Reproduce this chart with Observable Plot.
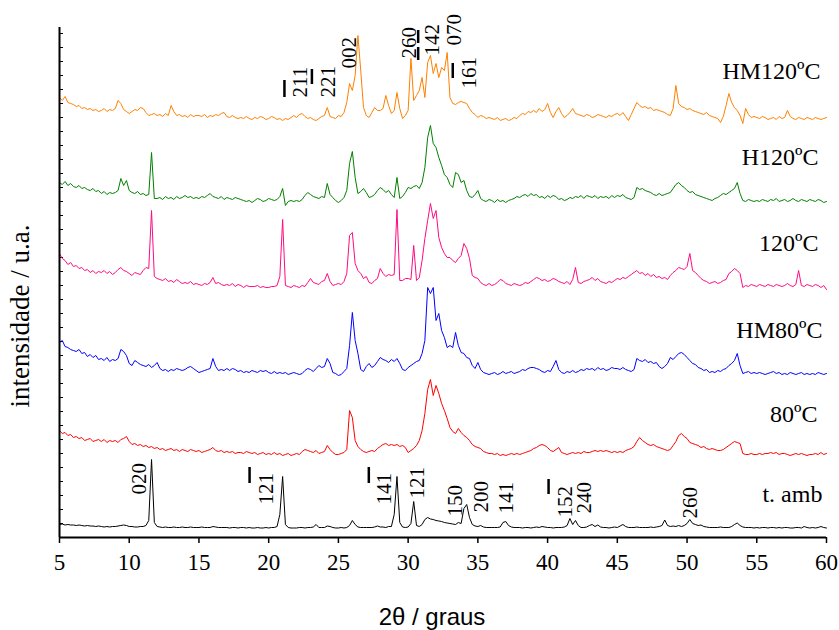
<!DOCTYPE html>
<html><head><meta charset="utf-8">
<script src="https://cdn.jsdelivr.net/npm/d3@7"></script>
<script src="https://cdn.jsdelivr.net/npm/@observablehq/plot@0.6"></script>
<style>body{margin:0;background:#fff}#chart{width:839px;height:630px}</style>
</head><body><div id="chart"></div><script>
// scan grid: 5.0 .. 60.0 degrees (2θ), step 0.2
const twoTheta = d3.range(0, 276).map(i => +(5 + 0.2 * i).toFixed(1));

const seriesNames = ["t. amb", "80ºC", "HM80ºC", "120ºC", "H120ºC", "HM120ºC"];
const seriesColors = ["#000000", "#ff0000", "#0000ff", "#ff0a80", "#008000", "#ff8000"];
const seriesOffsets = [9, 82, 162, 249, 335, 417];

const tAmb = [
/*5*/ 4,4.5,3.5,4,3.5, /*6*/ 3.5,3,3.5,3,2.5, /*7*/ 3,2.5,2.5,2,2.5, /*8*/ 2,1.5,2,1.5,2,
/*9*/ 2,2.5,3,3.5,3, /*10*/ 2,2,1.5,1.5,2, /*11*/ 2,3,8,69,6, /*12*/ 2,1.5,1,1.5,1,
/*13*/ 1,1.5,1,1,1.5, /*14*/ 1,1,1.5,1,1, /*15*/ 1,1.5,1,1,1, /*16*/ 2,1.5,1,1,1,
/*17*/ 1,0.5,1,1,0.5, /*18*/ 1,1,0.5,1,0.5, /*19*/ 0.5,1,0.5,0.5,1, /*20*/ 0.5,1,1,2,14,
/*21*/ 52,4,1,0.5,0.5, /*22*/ 0.5,1,1,0.5,1, /*23*/ 1,1.5,4,1,1, /*24*/ 1,2.5,2,1,0.5,
/*25*/ 0.5,1,0.5,1,3, /*26*/ 8,4,1.5,1,1, /*27*/ 1,1,1,1.5,2.5, /*28*/ 1.5,1.5,1,2,2,
/*29*/ 14,52,6,1.5,1, /*30*/ 1.5,5,27,3,2, /*31*/ 4,9,11,9.5,9, /*32*/ 8,7.5,7,6,5.5,
/*33*/ 5,4.5,4,6,5, /*34*/ 20,24,11,4,2.5, /*35*/ 2,3,1.5,1,1, /*36*/ 1,1,1,1.5,6,
/*37*/ 7,3,1.5,1,1, /*38*/ 1,0.5,1,1,0.5, /*39*/ 1,1.5,1,2,1.5, /*40*/ 1,1,0.5,1,1,
/*41*/ 1,1.5,3,10,4, /*42*/ 8,3,1,1,1.5, /*43*/ 3,4,2,3.5,1.5, /*44*/ 1,1,0.5,1,1.5,
/*45*/ 1,2.5,4,2,1, /*46*/ 1,1,1.5,1,1, /*47*/ 1,1,1.5,1,1.5, /*48*/ 2,3,8.5,3,2,
/*49*/ 2.5,2,3,2,3, /*50*/ 5,9,5,4,3, /*51*/ 3.5,2,1.5,1,1, /*52*/ 1,1,1.5,1,1,
/*53*/ 1,2,4,5.5,3, /*54*/ 1.5,1,1,1,0.5, /*55*/ 1,0.5,1,1,0.5, /*56*/ 1,1,0.5,1,0.5,
/*57*/ 1,1,0.5,0.5,1, /*58*/ 1,0.5,2,1,0.5, /*59*/ 1,0.5,1,2,1, /*60*/ 0.5];

const s80 = [
/*5*/ 25,22,23,20,21, /*6*/ 18,19,17,18,15, /*7*/ 16,17,14,15,16, /*8*/ 14,16,13,15,14,
/*9*/ 15,13,16,17,19, /*10*/ 14,11,12,10,11, /*11*/ 9,10,8,9,7, /*12*/ 8,6,7,5,6,
/*13*/ 7,5,6,4,6, /*14*/ 5,4,6,5,4, /*15*/ 5,3,4,5,6, /*16*/ 8,5,4,5,3,
/*17*/ 4,3,4,2,3, /*18*/ 3,2,4,3,2, /*19*/ 3,1,2,3,1, /*20*/ 2,1,3,1,2,
/*21*/ 0,1,2,0,1, /*22*/ 2,1,4,6,5, /*23*/ 4,3,5,2,3, /*24*/ 4,10,6,3,1,
/*25*/ 1,2,3,6,45, /*26*/ 38,15,9,6,4, /*27*/ 3,4,5,4,7, /*28*/ 9,11,12,10,11,
/*29*/ 10,11,9,10,8, /*30*/ 3,5,7,10,15, /*31*/ 25,42,66,76,60, /*32*/ 70,62,52,45,37,
/*33*/ 28,24,22,27,23, /*34*/ 20,18,15,11,9, /*35*/ 8,7,4,3,2, /*36*/ 2,1,2,0,1,
/*37*/ 0,1,2,1,2, /*38*/ 1,2,3,4,5, /*39*/ 7,8,10,11,10, /*40*/ 8,5,4,6,8,
/*41*/ 3,2,1,2,3, /*42*/ 2,3,2,4,3, /*43*/ 3,4,5,4,5, /*44*/ 4,5,4,3,4,
/*45*/ 3,4,3,5,6, /*46*/ 7,9,14,18,15, /*47*/ 13,11,10,11,9, /*48*/ 8,7,6,5,6,
/*49*/ 10,14,20,22,19, /*50*/ 17,13,12,11,10, /*51*/ 8,9,7,6,7, /*52*/ 6,5,5,6,8,
/*53*/ 10,12,14,13,12, /*54*/ 2,1,1,2,1, /*55*/ 1,2,1,2,2, /*56*/ 3,2,3,1,2,
/*57*/ 2,1,0,1,2, /*58*/ 1,2,1,0,1, /*59*/ 1,2,1,3,1, /*60*/ 2];

const hm80 = [
/*5*/ 33,35,29,28,26, /*6*/ 25,24,26,22,23, /*7*/ 19,21,18,20,16, /*8*/ 17,15,18,14,16,
/*9*/ 15,17,26,24,20, /*10*/ 12,10,15,13,11, /*11*/ 10,9,11,8,10, /*12*/ 13,7,5,6,4,
/*13*/ 6,5,7,6,5, /*14*/ 6,8,9,7,5, /*15*/ 3,4,5,6,7, /*16*/ 17,9,5,6,5,
/*17*/ 7,5,7,6,4, /*18*/ 5,3,4,3,5, /*19*/ 4,3,5,4,5, /*20*/ 3,2,4,2,3,
/*21*/ 2,3,1,2,3, /*22*/ 2,1,2,5,7, /*23*/ 6,4,7,10,8, /*24*/ 9,17,12,3,2,
/*25*/ 0,1,4,7,30, /*26*/ 63,35,22,6,4, /*27*/ 9,12,8,10,14, /*28*/ 18,16,15,13,16,
/*29*/ 14,17,12,6,5, /*30*/ 8,10,12,14,15, /*31*/ 22,35,88,82,88, /*32*/ 55,62,45,38,28,
/*33*/ 30,28,43,30,23, /*34*/ 22,18,17,10,7, /*35*/ 13,6,3,2,1, /*36*/ 2,3,1,2,4,
/*37*/ 2,3,4,2,3, /*38*/ 4,6,5,7,8, /*39*/ 8,7,6,4,3, /*40*/ 5,4,9,15,6,
/*41*/ 3,2,4,3,5, /*42*/ 3,4,6,5,7, /*43*/ 6,7,5,8,6, /*44*/ 7,5,6,8,7,
/*45*/ 7,6,8,6,5, /*46*/ 4,6,17,15,14, /*47*/ 16,13,14,12,13, /*48*/ 9,7,9,12,18,
/*49*/ 16,19,22,23,21, /*50*/ 18,15,12,11,8, /*51*/ 7,5,6,3,4, /*52*/ 3,5,4,6,7,
/*53*/ 10,12,15,22,10, /*54*/ 2,3,4,2,3, /*55*/ 2,3,2,1,2, /*56*/ 3,4,2,3,1,
/*57*/ 2,1,3,2,1, /*58*/ 2,3,1,2,1, /*59*/ 2,1,3,2,1, /*60*/ 2];

const s120 = [
/*5*/ 35,30,28,24,26, /*6*/ 22,23,20,21,18, /*7*/ 19,16,18,15,17, /*8*/ 16,18,15,17,14,
/*9*/ 16,19,21,18,17, /*10*/ 15,13,16,15,14, /*11*/ 18,21,20,78,12, /*12*/ 10,9,8,10,7,
/*13*/ 8,6,9,7,5, /*14*/ 6,5,7,4,5, /*15*/ 4,3,5,4,6, /*16*/ 11,5,6,4,3,
/*17*/ 4,3,5,2,4, /*18*/ 3,1,3,2,2, /*19*/ 2,3,1,2,1, /*20*/ 1,2,2,3,12,
/*21*/ 69,3,2,1,3, /*22*/ 2,1,3,2,6, /*23*/ 10,6,5,4,7, /*24*/ 8,15,7,3,4,
/*25*/ 5,4,7,15,53, /*26*/ 56,25,18,15,10, /*27*/ 12,6,5,8,10, /*28*/ 20,15,12,14,13,
/*29*/ 14,79,8,8,10, /*30*/ 10,9,43,8,11, /*31*/ 28,50,68,85,70, /*32*/ 78,51,41,35,31,
/*33*/ 31,28,26,30,33, /*34*/ 45,40,30,13,11, /*35*/ 10,6,4,3,5, /*36*/ 3,4,6,9,8,
/*37*/ 5,4,3,5,4, /*38*/ 3,4,6,5,7, /*39*/ 9,11,10,8,9, /*40*/ 7,8,10,9,7,
/*41*/ 6,5,7,4,9, /*42*/ 21,6,5,7,8, /*43*/ 9,11,8,10,7, /*44*/ 6,5,7,6,8,
/*45*/ 10,9,11,10,12, /*46*/ 14,16,18,15,16, /*47*/ 13,15,12,14,11, /*48*/ 12,10,11,9,13,
/*49*/ 16,18,21,20,19, /*50*/ 22,35,18,16,13, /*51*/ 10,8,7,5,6, /*52*/ 7,5,6,8,9,
/*53*/ 15,17,20,18,15, /*54*/ 1,3,2,4,3, /*55*/ 2,4,3,2,4, /*56*/ 3,2,4,3,2,
/*57*/ 3,5,3,2,4, /*58*/ 18,3,2,4,3, /*59*/ 2,4,3,1,3, /*60*/ -1];

const h120 = [
/*5*/ 20,18,21,17,19, /*6*/ 16,15,17,14,15, /*7*/ 13,12,14,11,12, /*8*/ 9,11,8,10,9,
/*9*/ 10,12,24,17,22, /*10*/ 12,10,9,11,8, /*11*/ 9,7,8,50,4, /*12*/ 4,5,3,6,4,
/*13*/ 5,3,6,4,5, /*14*/ 7,5,6,4,5, /*15*/ 4,6,5,7,9, /*16*/ 6,5,4,6,3,
/*17*/ 5,4,3,5,4, /*18*/ 3,2,1,2,0, /*19*/ 2,4,3,1,2, /*20*/ 4,3,2,3,6,
/*21*/ 14,-3,1,2,1, /*22*/ 2,1,3,7,10, /*23*/ 8,6,5,4,6, /*24*/ 5,19,8,5,2,
/*25*/ 0,2,5,12,39, /*26*/ 51,25,9,11,14, /*27*/ 10,5,6,8,12, /*28*/ 15,13,10,12,8,
/*29*/ 5,25,4,6,10, /*30*/ 15,14,16,17,14, /*31*/ 20,35,65,77,59, /*32*/ 55,45,37,28,25,
/*33*/ 18,15,30,28,20, /*34*/ 22,12,6,5,8, /*35*/ 12,4,2,1,3, /*36*/ 2,0,3,1,2,
/*37*/ 0,2,3,4,6, /*38*/ 5,7,8,6,9, /*39*/ 7,8,5,6,4, /*40*/ 7,5,7,6,3,
/*41*/ 4,2,3,5,4, /*42*/ 6,5,7,4,7, /*43*/ 6,5,7,4,6, /*44*/ 5,6,4,7,5,
/*45*/ 7,6,8,5,4, /*46*/ 3,5,15,13,14, /*47*/ 12,11,10,8,7, /*48*/ 9,7,8,9,10,
/*49*/ 14,18,20,17,15, /*50*/ 12,10,11,8,7, /*51*/ 6,5,4,3,2, /*52*/ 4,5,7,9,8,
/*53*/ 10,12,14,20,9, /*54*/ 2,1,3,2,1, /*55*/ 2,1,3,2,1, /*56*/ 3,2,4,1,2,
/*57*/ 3,1,2,4,2, /*58*/ 1,3,2,1,3, /*59*/ 2,1,3,2,0, /*60*/ 1];

const hm120 = [
/*5*/ 23,20,24,18,17, /*6*/ 16,14,15,12,13, /*7*/ 11,12,10,11,9, /*8*/ 10,12,9,11,10,
/*9*/ 12,20,17,11,9, /*10*/ 7,9,11,10,13, /*11*/ 12,8,5,6,7, /*12*/ 5,6,4,7,5,
/*13*/ 15,9,5,6,4, /*14*/ 5,3,6,4,5, /*15*/ 5,4,6,3,5, /*16*/ 4,6,5,7,8,
/*17*/ 4,3,5,3,2, /*18*/ 3,2,4,2,1, /*19*/ 3,2,4,3,1, /*20*/ 2,4,3,1,2,
/*21*/ 0,2,1,3,5, /*22*/ 3,6,7,4,2, /*23*/ 3,1,0,2,4, /*24*/ 5,13,4,3,2,
/*25*/ 5,4,8,18,37, /*26*/ 30,45,85,50,13, /*27*/ 5,3,8,13,10, /*28*/ 10,12,25,15,7,
/*29*/ 10,28,12,2,5, /*30*/ 10,62,20,25,30, /*31*/ 43,23,58,65,47, /*32*/ 57,43,53,50,68,
/*33*/ 23,17,16,18,19, /*34*/ 18,17,12,8,6, /*35*/ 3,5,4,2,3, /*36*/ 2,1,3,0,1,
/*37*/ 2,0,1,3,2, /*38*/ 5,7,6,9,8, /*39*/ 10,8,12,9,11, /*40*/ 17,8,3,9,13,
/*41*/ 7,3,5,8,12, /*42*/ 7,6,5,4,6, /*43*/ 5,3,4,6,5, /*44*/ 4,3,5,4,6,
/*45*/ 7,5,8,4,0, /*46*/ 6,12,18,15,13, /*47*/ 14,12,13,10,11, /*48*/ 10,9,8,6,5,
/*49*/ 12,35,17,14,13, /*50*/ 11,12,10,9,8, /*51*/ 7,6,8,5,4, /*52*/ 3,2,-2,4,15,
/*53*/ 27,18,13,10,5, /*54*/ -3,12,6,3,4, /*55*/ 3,2,4,3,1, /*56*/ 2,3,1,4,2,
/*57*/ 3,10,4,2,1, /*58*/ 3,2,1,3,2, /*59*/ 1,3,2,1,2, /*60*/ 3];

const seriesValues = [tAmb, s80, hm80, s120, h120, hm120];

// Miller index labels (rotated), position of their start
const millerText = ["020","121","141","121","150","200","141","152","240","260",
                    "211","221","002","260","142","070","161"];
const millerX    = [10.74,19.84,28.3,30.67,33.4,35.26,37.06,41.28,42.6,50.25,
                    22.3,24.3,25.8,30.1,31.75,33.3,34.4];
const millerY    = [43,33,33,39,21,25,24,20,24,19,
                    440,440,469,479,482,492,449];
// negation bars
const barX  = [18.63, 27.18, 40.07, 21.13, 23.1, 30.72, 30.72, 33.2];
const barY1 = [54, 54, 43, 440, 453, 494, 477, 459];
const barY2 = [70, 70, 58, 457, 468, 507, 490, 474];
// series names
const nameX = [59.71, 59.36, 59.71, 59.43, 59.43, 59.57];
const nameY = [42.7, 123.5, 207, 294, 380.5, 466];

const xTicks = [5,10,15,20,25,30,35,40,45,50,55,60];
const yTicks = d3.range(0, 511, 14);

seriesValues.forEach((v, k) => { if (v.length !== twoTheta.length) throw new Error(seriesNames[k] + " length " + v.length); });

const lineMarks = seriesValues.map((vals, k) =>
  Plot.line(vals.map((v, i) => ({x: twoTheta[i], y: v + seriesOffsets[k]})),
    {x: "x", y: "y", stroke: seriesColors[k], strokeWidth: 1})
);

const miller = millerText.map((t, i) => ({t, x: millerX[i], y: millerY[i]}));
const bars = barX.map((x, i) => ({x, y1: barY1[i], y2: barY2[i]}));
const names = seriesNames.map((t, i) => ({t, x: nameX[i], y: nameY[i]}));

const plot = Plot.plot({
  width: 839, height: 630,
  marginLeft: 59, marginRight: 13, marginTop: 27, marginBottom: 93,
  style: {fontFamily: "'Liberation Serif', 'Times New Roman', serif", fontSize: "22px", background: "white", color: "black", overflow: "visible"},
  x: {domain: [5, 60], label: null},
  y: {domain: [0, 510], label: null},
  marks: [
    Plot.axisX({ticks: xTicks, tickSize: 6, tickPadding: 10, tickFormat: d => String(d), fontSize: 23, label: null, strokeWidth: 1.5}),
    Plot.axisY({ticks: yTicks, tickSize: -4, tickFormat: () => "", label: null, strokeWidth: 1}),
    ...lineMarks,
    Plot.ruleX([5], {strokeWidth: 2}),
    Plot.ruleY([0], {strokeWidth: 2}),
    Plot.text(miller, {x: "x", y: "y", text: "t", rotate: -90, textAnchor: "start", fontSize: 21, fill: "black"}),
    Plot.ruleX(bars, {x: "x", y1: "y1", y2: "y2", strokeWidth: 2.5, stroke: "black"}),
    Plot.text(names, {x: "x", y: "y", text: "t", textAnchor: "end", fontSize: 24, fill: "black"})
  ]
});

const svg = d3.select(plot);
svg.append("text")
  .attr("x", 432).attr("y", 625)
  .attr("text-anchor", "middle")
  .style("font-family", "'Liberation Sans', Arial, sans-serif")
  .style("font-size", "24px")
  .attr("fill", "black")
  .text("2θ / graus");
svg.append("text")
  .attr("transform", "translate(29,316) rotate(-90)")
  .attr("text-anchor", "middle")
  .style("font-family", "'Liberation Serif', 'Times New Roman', serif")
  .style("font-size", "27px")
  .attr("fill", "black")
  .text("intensidade / u.a.");

document.getElementById("chart").appendChild(plot);
</script></body></html>
